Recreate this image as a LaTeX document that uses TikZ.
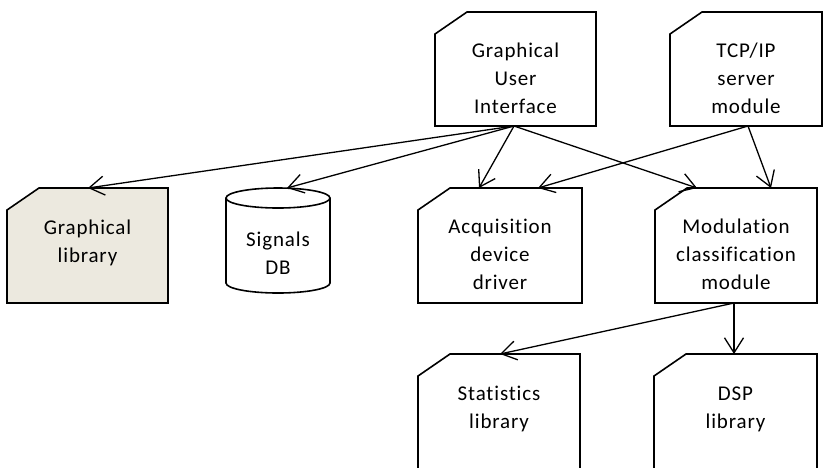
\documentclass[tikz,border=0pt]{standalone}
\usepackage{fontspec}
\setmainfont{Carlito}[Ligatures={NoCommon}, LetterSpace=4]
\usetikzlibrary{arrows.meta,calc}
\definecolor{libfill}{RGB}{236,233,223}
\newcommand\chbox[2][]{\draw[boxline,#1] (#2.south west) -- ([yshift=-22pt]#2.north west) -- ([xshift=32pt]#2.north west) -- (#2.north east) -- (#2.south east) -- cycle;}
\begin{document}
\begin{tikzpicture}[x=1pt,y=-1pt,
  boxline/.style={line width=1.6pt, line join=miter},
  conn/.style={line width=1.3pt, -{Straight Barb[length=15pt,width=19pt]}},
  lbl/.style={anchor=north, inner sep=0pt, align=center, font=\fontsize{21}{28}\selectfont},
  area/.style={rectangle, inner sep=0pt, outer sep=0pt}]
\useasboundingbox (0,0) rectangle (824,467);
\clip (0,0) rectangle (824,467);
% areas
\node[area, minimum width=161pt, minimum height=114pt] (gui) at (515.5,69) {};
\node[area, minimum width=152pt, minimum height=114pt] (tcp) at (746,69) {};
\node[area, minimum width=161pt, minimum height=115pt] (glib) at (87.5,245.5) {};
\node[area, minimum width=104pt, minimum height=105pt] (db) at (278,240.5) {};
\node[area, minimum width=164pt, minimum height=115pt] (acq) at (500,245.5) {};
\node[area, minimum width=162pt, minimum height=115pt] (mod) at (736,245.5) {};
\node[area, minimum width=162pt, minimum height=126pt] (stat) at (499,417) {};
\node[area, minimum width=163pt, minimum height=126pt] (dsp) at (735.5,417) {};
% outlines
\chbox{gui}
\chbox{tcp}
\chbox[fill=libfill]{glib}
\chbox{acq}
\chbox{mod}
\chbox{stat}
\chbox{dsp}
\draw[boxline] ([yshift=-10pt]db.north west) -- ([yshift=10pt]db.south west)
  arc[start angle=180,end angle=360,x radius=52pt,y radius=10pt] -- ([yshift=-10pt]db.north east);
\draw[boxline] ([yshift=-10pt]db.north) ellipse[x radius=52pt, y radius=10pt];
% labels
\node[lbl] at ($(gui.north)+(0,26)$) {\strut Graphical\\User\\Interface};
\node[lbl] at ($(tcp.north)+(0,26)$) {\strut TCP/IP\\server\\module};
\node[lbl] at ($(glib.north)+(0,27)$) {\strut Graphical\\library};
\node[lbl] at ($(db.north)+(0,39)$) {\strut Signals\\DB};
\node[lbl] at ($(acq.north)+(0,26)$) {\strut Acquisition\\device\\driver};
\node[lbl] at ($(mod.north)+(0,26)$) {\strut Modulation\\classification\\module};
\node[lbl] at ($(stat.north)+(0,27)$) {\strut Statistics\\library};
\node[lbl] at ($(dsp.north)+(0,27)$) {\strut DSP\\library};
% connectors
\coordinate (gsrc) at ($(gui.south west)+(79,0)$);
\coordinate (tsrc) at ($(tcp.south west)+(78,0)$);
\coordinate (msrc) at ($(mod.south west)+(79,0)$);
\draw[conn] (gsrc) -- ($(glib.north west)+(81,0)$);
\draw[conn] (gsrc) -- ($(db.north west)+(61,0)$);
\draw[conn] (gsrc) -- ($(acq.north west)+(61,0)$);
\draw[conn] (gsrc) -- ($(mod.north west)+(42,0)$);
\draw[conn] (tsrc) -- ($(acq.north west)+(120,0)$);
\draw[conn] (tsrc) -- ($(mod.north west)+(116,0)$);
\draw[conn] (msrc) -- ($(stat.north west)+(82,0)$);
\draw[conn] (msrc) -- ($(dsp.north west)+(80,0)$);
\end{tikzpicture}
\end{document}
